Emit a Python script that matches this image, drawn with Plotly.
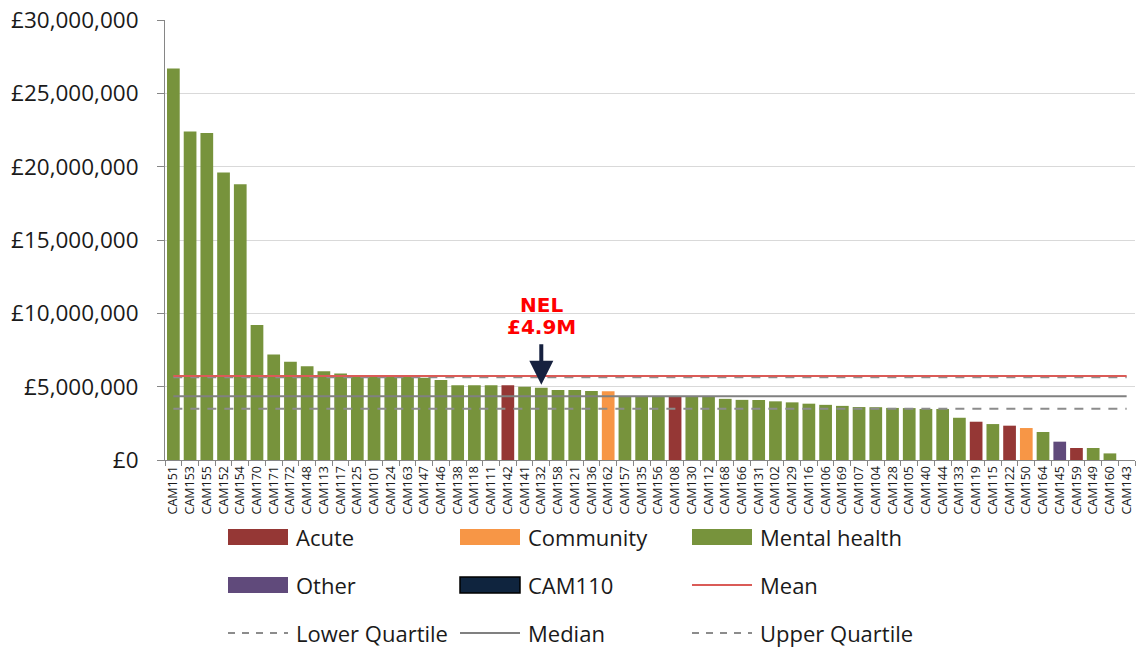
import plotly.graph_objects as go

# ---------------- data ----------------
categories = ["CAM151", "CAM153", "CAM155", "CAM152", "CAM154", "CAM170", "CAM171", "CAM172",
              "CAM148", "CAM113", "CAM117", "CAM125", "CAM101", "CAM124", "CAM163", "CAM147",
              "CAM146", "CAM138", "CAM118", "CAM111", "CAM142", "CAM141", "CAM132", "CAM158",
              "CAM121", "CAM136", "CAM162", "CAM157", "CAM135", "CAM156", "CAM108", "CAM130",
              "CAM112", "CAM168", "CAM166", "CAM131", "CAM102", "CAM129", "CAM116", "CAM106",
              "CAM169", "CAM107", "CAM104", "CAM128", "CAM105", "CAM140", "CAM144", "CAM133",
              "CAM119", "CAM115", "CAM122", "CAM150", "CAM164", "CAM145", "CAM159", "CAM149",
              "CAM160", "CAM143"]

values_m = [26.7, 22.4, 22.3, 19.6, 18.8, 9.2, 7.2, 6.7,
            6.4, 6.05, 5.9, 5.75, 5.72, 5.7, 5.68, 5.6,
            5.45, 5.1, 5.1, 5.1, 5.1, 5.0, 4.93, 4.78,
            4.77, 4.7, 4.68, 4.36, 4.36, 4.36, 4.34, 4.34,
            4.33, 4.17, 4.1, 4.09, 4.0, 3.93, 3.84, 3.76,
            3.69, 3.61, 3.6, 3.55, 3.54, 3.48, 3.48, 2.88,
            2.61, 2.45, 2.34, 2.18, 1.91, 1.25, 0.82, 0.82,
            0.45, 0.0]
values = [v * 1_000_000 for v in values_m]

provider_types = ["Mental health"] * len(categories)
for name, t in [("CAM142", "Acute"), ("CAM162", "Community"), ("CAM108", "Acute"),
                ("CAM119", "Acute"), ("CAM122", "Acute"), ("CAM150", "Community"),
                ("CAM145", "Other"), ("CAM159", "Acute")]:
    provider_types[categories.index(name)] = t

mean_value = 5_730_000
upper_quartile = 5_640_000
median_value = 4_340_000
lower_quartile = 3_500_000

highlight_provider = "CAM132"
highlight_label = ["NEL", "£4.9M"]

y_ticks = [0, 5_000_000, 10_000_000, 15_000_000, 20_000_000, 25_000_000, 30_000_000]
y_tick_text = ["£{:,}".format(v) for v in y_ticks]

# ---------------- styles ----------------
type_colors = {"Acute": "#953735", "Community": "#F79646",
               "Mental health": "#77933C", "Other": "#604A7B"}
cam110_color = "#0F243E"
mean_color = "#DA5B57"
quart_color = "#8C8C8C"
median_color = "#808080"
FONT = "Open Sans"

W, H = 1139, 648
ML, MR, MT, MB = 165, 4, 20, 188
PW, PH = W - ML - MR, H - MT - MB


def px(xp):
    return (xp - ML) / PW


def py(yp):
    return (H - MB - yp) / PH


fig = go.Figure()

fig.add_trace(go.Bar(
    x=categories, y=values,
    marker=dict(color=[type_colors[t] for t in provider_types], line=dict(width=0)),
    showlegend=False, hoverinfo="x+y",
))

x_span = [categories[0], categories[-1]]
for yv, col, dash in [(lower_quartile, quart_color, "9px,8px"),
                      (median_value, median_color, "solid"),
                      (upper_quartile, quart_color, "9px,8px"),
                      (mean_value, mean_color, "solid")]:
    fig.add_trace(go.Scatter(x=x_span, y=[yv, yv], mode="lines",
                             line=dict(color=col, width=2, dash=dash),
                             showlegend=False, hoverinfo="skip"))

hv = values[categories.index(highlight_provider)]
annotations = [
    dict(x=highlight_provider, y=hv, xref="x", yref="y", text="", showarrow=True,
         ax=0, ay=-45, arrowhead=2, arrowsize=1.2, arrowwidth=4, arrowcolor="#16213F",
         standoff=3),
    dict(x=highlight_provider, y=hv, xref="x", yref="y", text="<b>%s</b>" % highlight_label[0],
         showarrow=False, yshift=83, yanchor="middle",
         font=dict(family="DejaVu Sans", size=20, color="#FF0000")),
    dict(x=highlight_provider, y=hv, xref="x", yref="y", text="<b>%s</b>" % highlight_label[1],
         showarrow=False, yshift=61, yanchor="middle",
         font=dict(family="DejaVu Sans", size=20, color="#FF0000")),
]

# ---------------- manual legend ----------------
shapes = []
legend_items = [
    ("Acute", "rect", type_colors["Acute"], None),
    ("Community", "rect", type_colors["Community"], None),
    ("Mental health", "rect", type_colors["Mental health"], None),
    ("Other", "rect", type_colors["Other"], None),
    ("CAM110", "rect", cam110_color, "#000000"),
    ("Mean", "line", mean_color, "solid"),
    ("Lower Quartile", "line", quart_color, "dash"),
    ("Median", "line", median_color, "solid"),
    ("Upper Quartile", "line", quart_color, "dash"),
]
col_x = [228, 460, 692]
row_y = [537, 585, 633]
for i, (label, kind, color, extra) in enumerate(legend_items):
    cx = col_x[i % 3]
    cy = row_y[i // 3]
    if kind == "rect":
        shapes.append(dict(type="rect", xref="paper", yref="paper",
                           x0=px(cx), x1=px(cx + 60), y0=py(cy - 8), y1=py(cy + 8),
                           fillcolor=color,
                           line=dict(color=extra if extra else color, width=1.5 if extra else 0)))
    else:
        shapes.append(dict(type="line", xref="paper", yref="paper",
                           x0=px(cx), x1=px(cx + 60), y0=py(cy), y1=py(cy),
                           line=dict(color=color, width=2,
                                     dash="7px,7px" if extra == "dash" else "solid")))
    annotations.append(dict(x=px(cx + 66), y=py(cy), xref="paper", yref="paper",
                            text=label, showarrow=False, xanchor="left", yanchor="middle",
                            font=dict(family=FONT, size=22, color="#1a1a1a")))

fig.update_layout(
    width=W, height=H,
    margin=dict(l=ML, r=MR, t=MT, b=MB, pad=0),
    plot_bgcolor="white", paper_bgcolor="white",
    bargap=0.24,
    showlegend=False,
    annotations=annotations,
    shapes=shapes,
    font=dict(family=FONT, color="#1a1a1a"),
)
fig.update_yaxes(
    range=[0, 30_000_000], tickvals=y_ticks, ticktext=y_tick_text,
    showgrid=True, gridcolor="#D9D9D9", gridwidth=1,
    showline=True, linecolor="#868686", linewidth=1,
    ticks="outside", ticklen=7, tickcolor="#868686",
    ticklabelstandoff=14,
    tickfont=dict(family=FONT, size=22.5, color="#1a1a1a"),
    zeroline=False,
)
fig.update_xaxes(
    tickangle=-90, tickson="boundaries", ticks="outside", ticklen=5, tickcolor="#868686",
    showline=True, linecolor="#868686", linewidth=1,
    tickfont=dict(family=FONT, size=12.5, color="#1a1a1a"),
    range=[-0.5, len(categories) - 0.5],
)

fig.write_html("out.html", config={"displayModeBar": False},
               post_script="document.body.style.margin='0';document.body.style.overflow='hidden';")
